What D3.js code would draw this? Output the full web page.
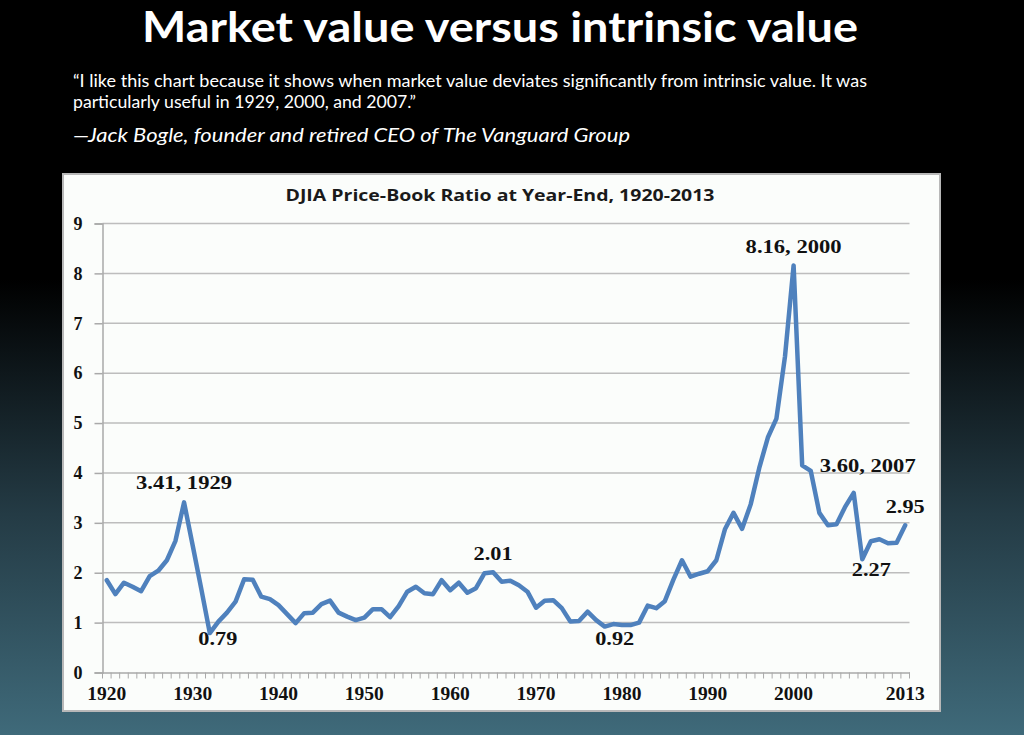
<!DOCTYPE html>
<html><head><meta charset="utf-8">
<script src="https://cdn.jsdelivr.net/npm/d3@7"></script>
<style>html,body{margin:0;padding:0;background:#000;overflow:hidden} svg{display:block}</style>
</head><body>
<svg id="c" width="1024" height="735"></svg>
<script>
// ---------- data ----------
const years = d3.range(1920, 2014);
const ratio = [
  1.85, 1.57, 1.80, 1.72, 1.63, 1.93, 2.04, 2.25, 2.64, 3.41, // 1920s
  2.55, 1.68, 0.79, 1.02, 1.20, 1.42, 1.87, 1.86, 1.52, 1.47, // 1930s
  1.35, 1.17, 0.99, 1.19, 1.20, 1.37, 1.44, 1.20, 1.12, 1.05, // 1940s
  1.10, 1.27, 1.27, 1.11, 1.33, 1.62, 1.72, 1.59, 1.57, 1.85, // 1950s
  1.65, 1.80, 1.60, 1.69, 1.99, 2.01, 1.82, 1.84, 1.75, 1.62, // 1960s
  1.30, 1.44, 1.45, 1.29, 1.02, 1.03, 1.22, 1.05, 0.92, 0.97, // 1970s
  0.95, 0.95, 1.00, 1.34, 1.29, 1.43, 1.86, 2.25, 1.92, 1.98, // 1980s
  2.03, 2.25, 2.87, 3.20, 2.88, 3.37, 4.10, 4.71, 5.09, 6.34, // 1990s
  8.16, 4.15, 4.04, 3.20, 2.95, 2.97, 3.32, 3.60, 2.27, 2.63, // 2000s
  2.67, 2.59, 2.60, 2.95                                      // 2010s
];
const yTickValues = [0, 1, 2, 3, 4, 5, 6, 7, 8, 9];
const xTickLabels = [1920, 1930, 1940, 1950, 1960, 1970, 1980, 1990, 2000, 2013];
const noteYears = [1929, 1932, 1965, 1978, 2000, 2007, 2008, 2013];
const noteTexts = ["3.41, 1929", "0.79", "2.01", "0.92", "8.16, 2000", "3.60, 2007", "2.27", "2.95"];
const slideTitle = "Market value versus intrinsic value";
const quoteLines = [
  "\u201CI like this chart because it shows when market value deviates significantly from intrinsic value. It was",
  "particularly useful in 1929, 2000, and 2007.\u201D"
];
const attribution = "\u2014Jack Bogle, founder and retired CEO of The Vanguard Group";
const chartTitle = "DJIA Price-Book Ratio at Year-End, 1920-2013";

// ---------- layout / style ----------
const svg = d3.select("#c");
const W = 1024, H = 735;
const plot = {left: 102.5, right: 909.5, top: 223.5, bottom: 672.5};
const noteOffsets = { // label anchor offsets from data point: [dx, dy(baseline)]
  1929: [0, -13], 1932: [8, 12], 1965: [0, -12], 1978: [10, 18],
  2000: [0, -12], 2007: [14, -21], 2008: [9, 17], 2013: [0, -12]
};
const serif = "'Liberation Serif','Times New Roman',serif";
const sans = "Lato,'Open Sans',sans-serif";

const defs = svg.append("defs");
const g = defs.append("linearGradient").attr("id", "bg").attr("x1", 0).attr("y1", 0).attr("x2", 0).attr("y2", 1);
g.append("stop").attr("offset", "0").attr("stop-color", "#000");
g.append("stop").attr("offset", "0.38").attr("stop-color", "#000");
g.append("stop").attr("offset", "0.70").attr("stop-color", "#243b45");
g.append("stop").attr("offset", "1").attr("stop-color", "#3f6a7a");
svg.append("rect").attr("width", W).attr("height", H).attr("fill", "url(#bg)");

// header
svg.append("text").attr("x", 500).attr("y", 42).attr("text-anchor", "middle")
  .attr("fill", "#fff").attr("font-family", sans).attr("font-weight", 700).attr("font-size", 42)
  .attr("textLength", 716).attr("lengthAdjust", "spacingAndGlyphs").text(slideTitle);
const qWidths = [794, 343];
quoteLines.forEach((t, i) => {
  svg.append("text").attr("x", 73).attr("y", 87 + i * 21)
    .attr("fill", "#fff").attr("font-family", sans).attr("font-size", 16.5)
    .attr("textLength", qWidths[i]).attr("lengthAdjust", "spacingAndGlyphs").text(t);
});
svg.append("text").attr("x", 73).attr("y", 142)
  .attr("fill", "#fff").attr("font-family", sans).attr("font-style", "italic").attr("font-size", 19.5)
  .attr("textLength", 557).attr("lengthAdjust", "spacingAndGlyphs").text(attribution);

// panel
svg.append("rect").attr("x", 63).attr("y", 174).attr("width", 877).attr("height", 537)
  .attr("fill", "#fbfdfb").attr("stroke", "#b8b8b8").attr("stroke-width", 2);

svg.append("text").attr("x", 500).attr("y", 201).attr("text-anchor", "middle")
  .attr("fill", "#1a1a1a").attr("font-family", "'Open Sans',sans-serif").attr("font-weight", 700)
  .attr("font-size", 16).attr("textLength", 429).attr("lengthAdjust", "spacingAndGlyphs").text(chartTitle);

// scales
const x = d3.scaleBand().domain(years).range([plot.left, plot.right]).padding(0);
const xc = yr => x(yr) + x.bandwidth() / 2;
const y = d3.scaleLinear().domain([0, 9]).range([plot.bottom, plot.top]);

// gridlines
svg.append("g").selectAll("line").data(yTickValues.filter(v => v > 0)).join("line")
  .attr("x1", plot.left).attr("x2", plot.right).attr("y1", d => y(d)).attr("y2", d => y(d))
  .attr("stroke", "#bdbdbd").attr("stroke-width", 1.5);

// y axis
const yAxis = svg.append("g").attr("transform", `translate(${plot.left},0)`)
  .call(d3.axisLeft(y).tickValues(yTickValues).tickSize(8).tickPadding(12).tickFormat(d3.format("d")));
yAxis.select(".domain").attr("stroke", "#a9a9a9").attr("stroke-width", 1.5);
yAxis.selectAll(".tick line").attr("stroke", "#a9a9a9").attr("stroke-width", 1.5);
yAxis.selectAll("text").attr("font-family", serif).attr("font-weight", 700).attr("font-size", 18).attr("fill", "#111");

// x axis: labels only for chosen years, ticks at every category boundary
const xAxis = svg.append("g").attr("transform", `translate(0,${plot.bottom})`)
  .call(d3.axisBottom(x).tickValues(xTickLabels).tickSize(0).tickPadding(15));
xAxis.select(".domain").attr("stroke", "#a9a9a9").attr("stroke-width", 1.5);
xAxis.selectAll("text").attr("font-family", serif).attr("font-weight", 700).attr("font-size", 18)
  .attr("fill", "#111").attr("textLength", 39).attr("lengthAdjust", "spacingAndGlyphs");
const bounds = years.map(yr => x(yr)).concat([plot.right]);
svg.append("g").selectAll("line").data(bounds).join("line")
  .attr("x1", d => d).attr("x2", d => d).attr("y1", plot.bottom).attr("y2", plot.bottom + 6)
  .attr("stroke", "#a9a9a9").attr("stroke-width", 1);

// line
const line = d3.line().x((d, i) => xc(years[i])).y(d => y(d));
svg.append("path").datum(ratio).attr("d", line).attr("fill", "none")
  .attr("stroke", "#4f81bd").attr("stroke-width", 4.5).attr("stroke-linejoin", "round").attr("stroke-linecap", "round");

// annotations
svg.append("g").selectAll("text").data(noteYears).join("text")
  .attr("x", d => xc(d) + noteOffsets[d][0])
  .attr("y", d => y(ratio[years.indexOf(d)]) + noteOffsets[d][1])
  .attr("text-anchor", "middle").attr("font-family", serif).attr("font-weight", 700).attr("font-size", 19)
  .attr("fill", "#111")
  .attr("textLength", (d, i) => noteTexts[i].length > 4 ? 96 : 39).attr("lengthAdjust", "spacingAndGlyphs")
  .text((d, i) => noteTexts[i]);
</script>
</body></html>
